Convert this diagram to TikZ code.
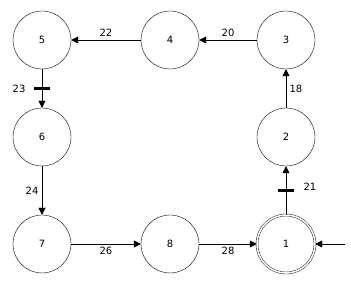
\documentclass[tikz,border=0pt]{standalone}
\usepackage{fontspec}
\setmainfont{DejaVu Sans}
\usetikzlibrary{arrows.meta}

\tikzset{
  state/.style={circle, draw, thin, minimum size=58pt, inner sep=0pt, font=\fontsize{10}{12}\selectfont},
  edge/.style={-{Triangle[length=7pt,width=7pt]}, thin},
  bar/.style={line width=2.6pt},
  lbl/.style={font=\fontsize{10}{12}\selectfont}
}

\begin{document}
\begin{tikzpicture}[x=1pt, y=-1pt, line cap=round, line join=round]
  \useasboundingbox (0,0) rectangle (351,283);

  \node[state] (n5) at (42,40) {5};
  \node[state] (n4) at (170,40) {4};
  \node[state] (n3) at (286,40) {3};
  \node[state] (n6) at (42,137) {6};
  \node[state] (n2) at (286,137) {2};
  \node[state] (n7) at (42,244) {7};
  \node[state] (n8) at (170,244) {8};
  \node[state, double, double distance=1.6pt] (n1) at (286,244) {1};
  \coordinate (in1) at (345,244);

  \draw[edge] (n3) -- node[lbl, above] {20} (n4);
  \draw[edge] (n4) -- node[lbl, above] {22} (n5);
  \draw[edge] (n5) -- node[coordinate] (b56) {} node[lbl, left=13pt] {23} (n6);
  \draw[edge] (n6) -- node[lbl, left] {24} (n7);
  \draw[edge] (n7) -- node[lbl, below] {26} (n8);
  \draw[edge] (n8) -- node[lbl, below] {28} (n1);
  \draw[edge] (in1) -- (n1);
  \draw[edge] (n1) -- node[coordinate] (b12) {} node[lbl, right=14pt, yshift=4pt] {21} (n2);
  \draw[edge] (n2) -- node[lbl, right] {18} (n3);

  % bars across the edges
  \draw[bar, line cap=butt] ([xshift=-8pt]b56) -- ([xshift=8pt]b56);
  \draw[bar, line cap=butt] ([xshift=-8pt]b12) -- ([xshift=8pt]b12);
\end{tikzpicture}
\end{document}
